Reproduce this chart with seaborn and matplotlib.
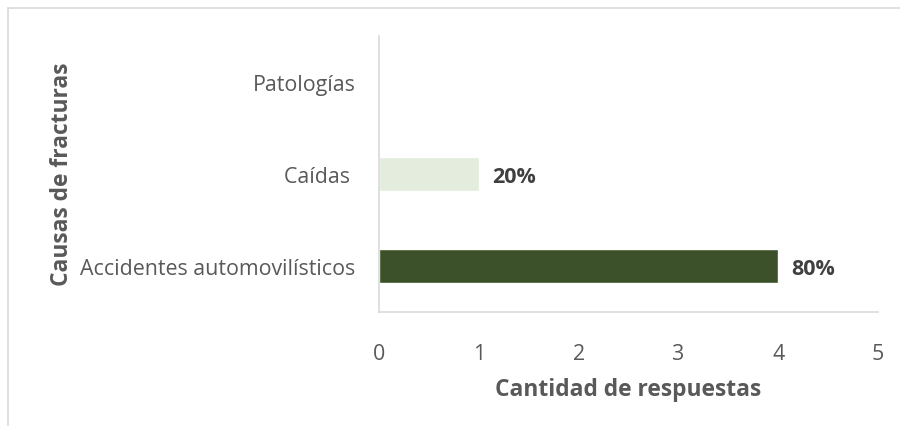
import pandas as pd
import seaborn as sns
import matplotlib.pyplot as plt
from matplotlib.lines import Line2D

# data
causas = ["Patologías", "Caídas ", "Accidentes automovilísticos"]
respuestas = [0, 1, 4]
porcentajes = ["", "20%", "80%"]
colores = ["#ffffff", "#e2efda", "#3b5723"]

sns.set_theme(style="white")
plt.rcParams["font.family"] = ["Open Sans", "DejaVu Sans"]

df = pd.DataFrame({"causa": causas, "n": respuestas})

fig = plt.figure(figsize=(9, 4.27), dpi=100)
ax = fig.add_axes([379 / 900, 1 - 313 / 427, 499 / 900, 276 / 427])

sns.barplot(data=df, y="causa", x="n", hue="causa", palette=colores,
            legend=False, width=0.36, ax=ax, orient="h")

ax.set_xlim(0, 5)
ax.set_xticks(range(6))
ax.tick_params(axis="both", length=0, labelsize=15.4, labelcolor="#595959")
ax.tick_params(axis="x", pad=22)
ax.tick_params(axis="y", pad=17)

for i, (v, p) in enumerate(zip(respuestas, porcentajes)):
    if p:
        ax.text(v + 0.13, i + 0.03, p, va="center", ha="left", fontsize=15.5,
                fontweight="bold", color="#404040")

for side in ["top", "right"]:
    ax.spines[side].set_visible(False)
for side in ["left", "bottom"]:
    ax.spines[side].set_color("#d9d9d9")
    ax.spines[side].set_linewidth(1.2)

ax.set_xlabel("Cantidad de respuestas", fontsize=16.4, fontweight="bold",
              color="#595959", labelpad=10)
ax.set_ylabel("Causas de fracturas", fontsize=16.4, fontweight="bold",
              color="#595959")
ax.yaxis.set_label_coords((74 - 379) / 499, (313 - 174) / 276)

# chart area border (top and left visible)
fig.add_artist(Line2D([8 / 900, 1], [1 - 9 / 427, 1 - 9 / 427], color="#d9d9d9", lw=1.2))
fig.add_artist(Line2D([8 / 900, 8 / 900], [0, 1 - 9 / 427], color="#d9d9d9", lw=1.2))

fig.savefig("out.png", dpi=100)
